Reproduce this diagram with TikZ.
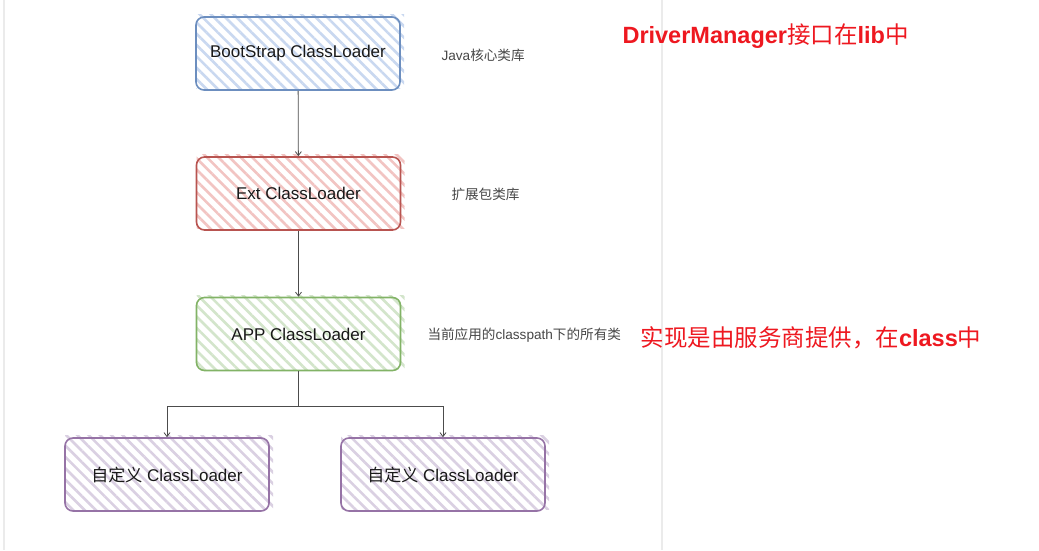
\documentclass[tikz,border=0pt]{standalone}
\usepackage{fontspec}
\setmainfont{Liberation Sans}
\newfontfamily\cjk{Noto Sans CJK SC}
\usetikzlibrary{patterns.meta,arrows.meta}
\definecolor{bluS}{HTML}{6C8EBF}\definecolor{bluH}{HTML}{C9D8F0}
\definecolor{redS}{HTML}{B85450}\definecolor{redH}{HTML}{F2C4C2}
\definecolor{grnS}{HTML}{82B366}\definecolor{grnH}{HTML}{D3E5CB}
\definecolor{purS}{HTML}{9673A6}\definecolor{purH}{HTML}{DAD0E2}
\definecolor{redT}{RGB}{238,24,32}
\definecolor{edge}{HTML}{EBEBEB}
\tikzset{
  loader/.style={draw=#1S, line width=1.6pt, rounded corners=8pt, minimum width=204pt, minimum height=73pt,
    font=\fontsize{17}{20}\selectfont, text=black!90},
  hatch/.style={pattern={Lines[angle=-45,distance=8pt,line width=2.6pt]}, pattern color=#1H},
  note/.style={font=\fontsize{13.6}{16}\selectfont, text=black!72, anchor=west},
  red/.style={font=\fontsize{23.5}{28}\selectfont\bfseries, text=redT, anchor=west},
  conn/.style={draw=black!70, line width=0.8pt, -{Straight Barb[length=4pt,width=6pt]}},
}
\begin{document}
\begin{tikzpicture}[x=1pt,y=-1pt]
\useasboundingbox (0,0) rectangle (1039,550);
\fill[white] (0,0) rectangle (1039,550);
\draw[edge, line width=2pt] (4,0) -- (4,550);
\draw[edge, line width=1.5pt] (662,0) -- (662,550);
% hatch backgrounds (sketchy, slightly offset)
\foreach \cx/\cy/\c in {298/53.5/blu, 298.5/193.5/red, 298.5/334/grn, 167/474.5/pur, 443/474.5/pur}{
  \path[hatch=\c] (\cx-102,\cy-39) rectangle (\cx+106,\cy+35);
}
\node[loader=blu] (boot) at (298,53.5) {BootStrap ClassLoader};
\node[loader=red] (ext) at (298.5,193.5) {Ext ClassLoader};
\node[loader=grn] (app) at (298.5,334) {APP ClassLoader};
\node[loader=pur] (c1) at (167,474.5) {{\cjk 自定义} ClassLoader};
\node[loader=pur] (c2) at (443,474.5) {{\cjk 自定义} ClassLoader};
\node[note] (n1) at (438,55) {Java{\cjk 核心类库}};
\node[note] (n2) at (448,194) {{\cjk 扩展包类库}};
\node[note] (n3) at (424,335) {{\cjk 当前应用的}classpath{\cjk 下的所有类}};
\node[red] (r1) at (619,36) {DriverManager{\cjk\mdseries 接口在}lib{\cjk\mdseries 中}};
\node[red] (r2) at (637,338) {{\cjk\mdseries 实现是由服务商提供，在}class{\cjk\mdseries 中}};
\draw[conn] (boot) -- (ext);
\draw[conn] (ext) -- (app);
\draw[conn] (app.south) -- ++(0,35) -| (c1.north);
\draw[conn] (app.south) -- ++(0,35) -| (c2.north);
\end{tikzpicture}
\end{document}
